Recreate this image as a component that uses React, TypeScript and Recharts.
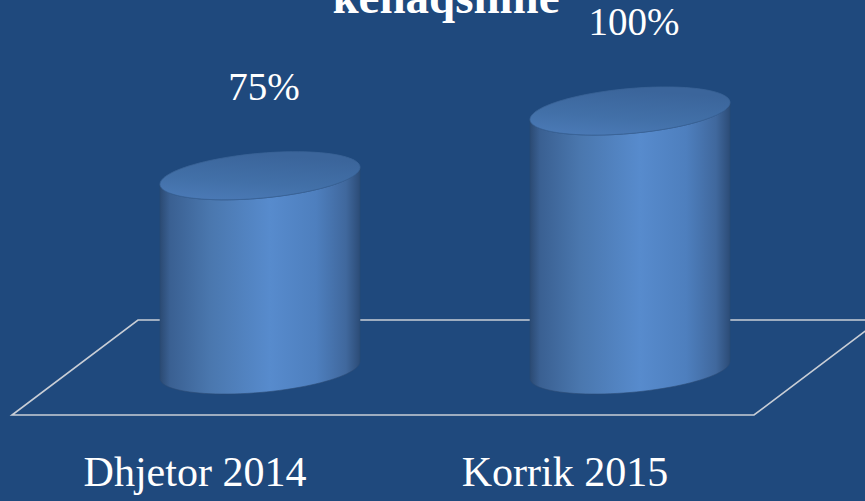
import React from 'react';
import { ComposedChart, Bar, XAxis, YAxis, LabelList, Customized } from 'recharts';

const categories = ['Dhjetor 2014', 'Korrik 2015'];
const values = [75, 100];
const valueLabels = ['75%', '100%'];
const titleText = 'kënaqshme';

const data = categories.map((c, i) => ({ name: c, value: values[i], label: valueLabels[i] }));

const BG = '#1F497D';
const SERIF = '"Liberation Serif", "Times New Roman", serif';

const ellipsePts = (cx: number, cy: number, rx: number, ry: number, s: number, t0: number, t1: number, n = 48) => {
  const pts: string[] = [];
  for (let i = 0; i <= n; i++) {
    const t = t0 + ((t1 - t0) * i) / n;
    const x = cx + rx * Math.cos(t);
    const y = cy + ry * Math.sin(t) - s * Math.cos(t);
    pts.push(`${x.toFixed(2)},${y.toFixed(2)}`);
  }
  return pts;
};

const Cylinder = (props: any) => {
  const { x, y, width, height } = props;
  if (width == null || height == null) return null;
  const rx = width / 2;
  const cx = x + rx;
  const ry = 22.5;
  const s = 8.5;
  const topY = y;
  const botY = y + height;
  const bottomArc = ellipsePts(cx, botY, rx, ry, s, Math.PI, 0);
  const topArc = ellipsePts(cx, topY, rx, ry, s, 0, Math.PI);
  const body = `M${cx - rx},${topY + s} L${bottomArc.join(' L')} L${cx + rx},${topY - s} L${topArc.join(' L')} Z`;
  const topEll = `M${ellipsePts(cx, topY, rx, ry, s, 0, Math.PI * 2, 96).join(' L')} Z`;
  return (
    <g>
      <path d={body} fill="url(#cylBody)" stroke="#2A4A74" strokeWidth={0.6} />
      <path d={topEll} fill="url(#cylTop)" stroke="#3A6397" strokeWidth={0.8} />
    </g>
  );
};

const ValueLabel = (props: any) => {
  const { x, y, width, value } = props;
  return (
    <text
      x={x + width / 2 + 4}
      y={y - 76}
      textAnchor="middle"
      fill="#FFFFFF"
      fontFamily={SERIF}
      fontSize={39}
    >
      {value}
    </text>
  );
};

const CatTick = (props: any) => {
  const { x, y, payload } = props;
  return (
    <text
      x={x - 65}
      y={y + 108}
      textAnchor="middle"
      fill="#FFFFFF"
      fontFamily={SERIF}
      fontSize={42}
    >
      {payload.value}
    </text>
  );
};

const Floor = () => (
  <g>
    <path
      d="M880,320 L138,320 L12,415 L754,415 L880,320"
      fill="none"
      stroke="#C9CED6"
      strokeWidth={1.6}
    />
  </g>
);

const Title = () => (
  <text
    x={446}
    y={13}
    textAnchor="middle"
    fill="#FFFFFF"
    fontFamily={SERIF}
    fontWeight="bold"
    fontSize={47}
  >
    {titleText}
  </text>
);

export default function App() {
  return (
    <div style={{ position: 'absolute', left: 0, top: 0, width: 865, height: 501, background: BG }}>
      <ComposedChart
        width={865}
        height={501}
        data={data}
        margin={{ top: 111, right: 50, bottom: 0, left: 75 }}
        style={{ background: BG }}
      >
        <defs>
          <linearGradient id="cylBody" x1="0" y1="0" x2="1" y2="0">
            <stop offset="0%" stopColor="#2B4A73" />
            <stop offset="5%" stopColor="#3A6092" />
            <stop offset="25%" stopColor="#4A77AE" />
            <stop offset="55%" stopColor="#578BCD" />
            <stop offset="78%" stopColor="#4E7FBE" />
            <stop offset="93%" stopColor="#40689D" />
            <stop offset="100%" stopColor="#2C4C77" />
          </linearGradient>
          <linearGradient id="cylTop" x1="0" y1="1" x2="0.3" y2="0">
            <stop offset="0%" stopColor="#4C7BB8" />
            <stop offset="45%" stopColor="#4270A8" />
            <stop offset="100%" stopColor="#3B659B" />
          </linearGradient>
        </defs>
        <Customized component={Floor} />
        <Customized component={Title} />
        <XAxis
          dataKey="name"
          axisLine={false}
          tickLine={false}
          height={131}
          tick={<CatTick />}
          interval={0}
        />
        <YAxis hide domain={[0, 100]} />
        <Bar dataKey="value" barSize={200} shape={<Cylinder />} isAnimationActive={false}>
          <LabelList dataKey="label" content={<ValueLabel />} />
        </Bar>
      </ComposedChart>
    </div>
  );
}
